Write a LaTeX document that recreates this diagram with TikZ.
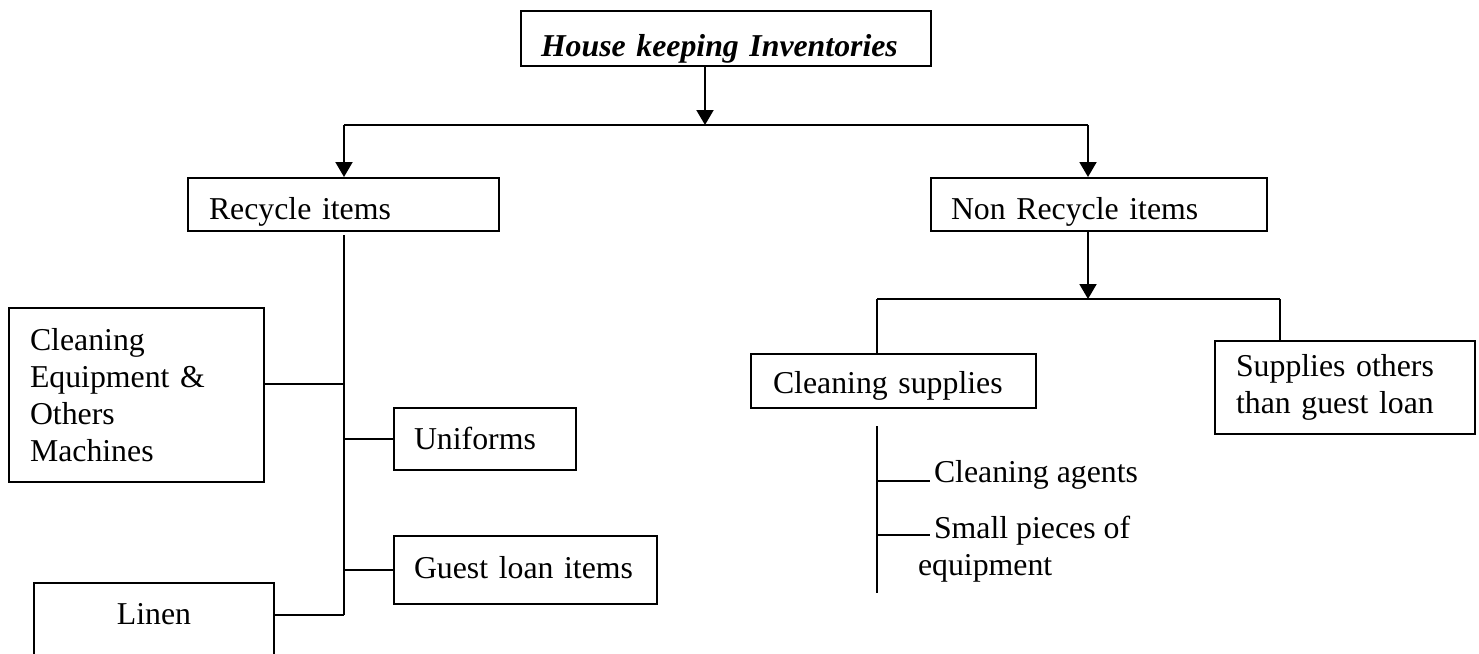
\documentclass[tikz,border=0pt]{standalone}
\usepackage{fontspec}
\setmainfont{Liberation Serif}
\usetikzlibrary{arrows.meta}

\begin{document}
\begin{tikzpicture}[x=1pt, y=-1pt, line width=2pt,
    font=\fontsize{31.8}{37}\selectfont,
    box/.style={draw, rectangle, anchor=north west, inner ysep=0pt, align=left},
    arr/.style={-{Triangle[length=15pt, width=17pt]}}]
    \useasboundingbox (0,0) rectangle (1479,653);
    \clip (0,0) rectangle (1479,653);

    \node[box, text width=370pt, inner xsep=20pt, text height=45pt, text depth=10pt] (inv) at (520,10) {\textbf{\textit{House keeping Inventories}}};

    \node[box, text width=269pt, inner xsep=21pt, text height=41pt, text depth=12pt] (rec) at (187,177) {Recycle items};
    \node[box, text width=296pt, inner xsep=20pt, text height=41pt, text depth=12pt] (nonrec) at (930,177) {Non Recycle items};

    \node[box, text width=213pt, inner xsep=21pt, minimum height=174pt] (cleq) at (8,307) {Cleaning\\Equipment \&\\Others\\Machines};
    \node[box, text width=142pt, inner xsep=20pt, text height=41pt, text depth=21pt] (unif) at (393,407) {Uniforms};
    \node[box, text width=223pt, inner xsep=20pt, text height=42pt, text depth=26pt] (guest) at (393,535) {Guest loan items};
    \node[box, text width=240pt, inner xsep=0pt, align=center, text height=41pt, text depth=60pt] (linen) at (33,582) {Linen};

    \node[box, text width=241pt, inner xsep=22pt, text height=39pt, text depth=15pt] (clsup) at (750,353) {Cleaning supplies};
    \node[box, text width=218pt, inner xsep=21pt, minimum height=93pt] (supoth) at (1214,340) {Supplies others\\than guest loan};

    \node[anchor=base west, inner sep=0pt] (agents) at (933,482) {Cleaning agents};
    \node[anchor=north west, inner sep=0pt, align=left] (pieces) at (917,515) {\hspace*{16pt}Small pieces of\\equipment};

    \coordinate (top) at (705,125);
    \coordinate (hl) at (344,125);
    \coordinate (hr) at (1088,125);
    \draw[arr] (inv.south -| top) -- (top);
    \draw (hl) -- (hr);
    \draw[arr] (hl) -- (hl |- rec.north);
    \draw[arr] (hr) -- (hr |- nonrec.north);

    \coordinate (rt) at (344,235);
    \coordinate (rb) at (344,615);
    \coordinate (b1) at (344,384);
    \draw (rt) -- (rb);
    \draw (cleq.east |- b1) -- (b1);
    \draw (unif.west -| rt) -- (unif.west);
    \draw (guest.west -| rt) -- (guest.west);
    \draw (linen.east |- rb) -- (rb);

    \coordinate (ns) at (1088,299);
    \coordinate (nl) at (877,299);
    \coordinate (nr) at (1280,299);
    \draw[arr] (nonrec.south -| ns) -- (ns);
    \draw (nl) -- (nr);
    \draw (nl) -- (nl |- clsup.north);
    \draw (nr) -- (nr |- supoth.north);

    \coordinate (ct) at (877,426);
    \coordinate (cb) at (877,593);
    \draw (ct) -- (cb);
    \draw (ct |- 0,481) -- (930,481);
    \draw (ct |- 0,535) -- (930,535);
\end{tikzpicture}
\end{document}
